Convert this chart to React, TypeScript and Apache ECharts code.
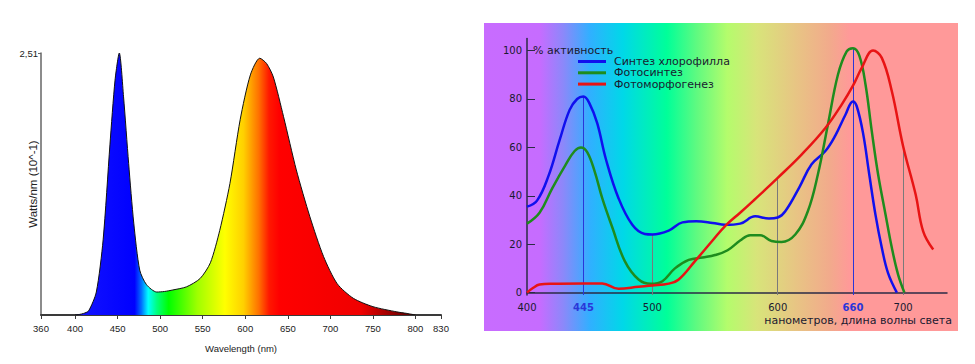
import React, { useEffect, useRef } from "react";
import * as echarts from "echarts";

// ---------- Left chart: LED emission spectrum ----------
const specWl = [400, 405, 410, 416, 425, 433, 441, 447, 452, 457, 463, 469, 476, 484, 496, 505, 515, 531, 547, 559, 570, 582, 594, 606, 617, 625, 633, 645, 660, 676, 692, 708, 727, 750, 778, 790, 800];
const specVal = [0, 0.005, 0.015, 0.04, 0.22, 0.72, 1.63, 2.25, 2.51, 2.09, 1.45, 0.88, 0.43, 0.29, 0.22, 0.225, 0.24, 0.27, 0.35, 0.5, 0.81, 1.26, 1.87, 2.3, 2.46, 2.41, 2.28, 1.9, 1.39, 0.94, 0.56, 0.3, 0.16, 0.08, 0.03, 0.015, 0];
const leftXTicks = [360, 400, 450, 500, 550, 600, 650, 700, 750, 800, 830];
const leftYTicks = [2.51];

// ---------- Right chart: plant activity ----------
const seriesNames = ["Синтез хлорофилла", "Фотосинтез", "Фотоморфогенез"];
const chlWl = [400, 408, 417, 426, 434, 440, 445, 450, 456, 463, 473, 484, 494, 500, 513, 524, 535, 548, 558, 570, 582, 593, 600, 606, 617, 627, 638, 646, 654, 660, 663, 668, 673, 678, 683, 688, 695];
const chlVal = [35.5, 38, 48, 63, 75.5, 80, 81, 78, 70, 55, 39, 28, 24.2, 24, 25.6, 29, 29.5, 28.8, 28, 28.5, 31.5, 30.6, 31, 33.6, 43.3, 53, 58.5, 65, 73.5, 79, 77, 66, 48.8, 32, 18.5, 8, 0];
const photoWl = [400, 410, 420, 431, 438, 443, 448, 454, 460, 468, 478, 489, 499, 508, 518, 529, 540, 550, 560, 570, 578, 586, 595, 603, 614, 624, 632, 640, 648, 655, 660, 665, 670, 675, 680, 686, 691, 696, 701];
const photoVal = [28.5, 33, 43, 53, 58.5, 60, 58, 50, 39, 27, 13, 5.4, 3.6, 4.7, 10, 13.5, 14.5, 15.5, 17.5, 21.5, 23.7, 23.7, 21.3, 20.9, 24, 33.6, 48.8, 69.4, 90, 99.7, 101, 98, 86, 66.7, 49, 32.2, 18.5, 7.4, 0];
const morphWl = [400, 405, 410, 420, 445, 460, 473, 489, 500, 513, 521, 534, 548, 558, 570, 580, 600, 619, 638, 651, 660, 667, 676, 683, 691, 700, 710, 716, 724];
const morphVal = [0, 2, 3.3, 3.7, 3.8, 3.8, 1.6, 2.4, 2.9, 3.7, 5.4, 13, 21.5, 27.5, 33, 37.7, 47.4, 57, 68, 77.7, 85.5, 92.9, 100, 97, 83.2, 60.5, 40.5, 25.3, 17.8];
const rightXTicks = [400, 445, 500, 600, 660, 700];
const highlightTicks = [445, 660];
const rightYTicks = [0, 20, 40, 60, 80, 100];
// drop lines: wavelength and index of the series they reach
const dropWl = [445, 500, 600, 660, 700];
const dropSeries = [0, 0, 2, 1, 2];

const wlSets = [chlWl, photoWl, morphWl];
const valSets = [chlVal, photoVal, morphVal];

function valueAt(wl: number[], val: number[], x: number): number {
  for (let i = 0; i < wl.length - 1; i++) {
    if (x >= wl[i] && x <= wl[i + 1]) {
      const t = (x - wl[i]) / (wl[i + 1] - wl[i]);
      return val[i] + t * (val[i + 1] - val[i]);
    }
  }
  return 0;
}

const pairs = (wl: number[], v: number[]) => wl.map((w, i) => [w, v[i]]);

export default function App() {
  const ref = useRef<HTMLDivElement>(null);
  useEffect(() => {
    if (!ref.current) return;
    const chart = echarts.init(ref.current, undefined, { renderer: "svg" });

    const spectrumGrad = new echarts.graphic.LinearGradient(0, 0, 1, 0, [
      { offset: 0, color: "#1414ff" },
      { offset: 0.175, color: "#0000ff" },
      { offset: 0.195, color: "#0070ff" },
      { offset: 0.215, color: "#00ffff" },
      { offset: 0.24, color: "#00ff80" },
      { offset: 0.275, color: "#00ff00" },
      { offset: 0.36, color: "#a0ff00" },
      { offset: 0.44, color: "#ffff00" },
      { offset: 0.495, color: "#ffd000" },
      { offset: 0.54, color: "#ff7000" },
      { offset: 0.57, color: "#ff1800" },
      { offset: 0.6, color: "#ff0000" },
      { offset: 0.84, color: "#f00000" },
      { offset: 1, color: "#500000" },
    ]);

    const bgGrad = new echarts.graphic.LinearGradient(0, 0, 1, 0, [
      { offset: 0, color: "#c86cff" },
      { offset: 0.118, color: "#c66cff" },
      { offset: 0.167, color: "#8c88fa" },
      { offset: 0.224, color: "#30b0ff" },
      { offset: 0.293, color: "#00d8e8" },
      { offset: 0.386, color: "#00ff99" },
      { offset: 0.449, color: "#60fa80" },
      { offset: 0.513, color: "#b4fc6c" },
      { offset: 0.576, color: "#d8e47a" },
      { offset: 0.66, color: "#e8c484" },
      { offset: 0.73, color: "#f2aa8c" },
      { offset: 0.772, color: "#ff9999" },
      { offset: 1, color: "#ff9999" },
    ]);

    const lineColors = ["#1010ee", "#1e8c1e", "#e81414"];
    const font = '"DejaVu Sans", Verdana, sans-serif';
    const leftFont = '"Liberation Sans", Arial, sans-serif';

    const dropData = dropWl.map((w, i) => {
      const s = dropSeries[i];
      const v = valueAt(wlSets[s], valSets[s], w);
      const hl = highlightTicks.indexOf(w) >= 0;
      return [
        { coord: [w, -1], lineStyle: { color: hl ? "#2a36d8" : "#7a7a7a", width: 1, type: "solid" } },
        { coord: [w, v] },
      ];
    });

    const option: any = {
      animation: false,
      graphic: [
        {
          type: "rect",
          z: -10,
          shape: { x: 484, y: 23, width: 474, height: 308 },
          style: { fill: bgGrad },
        },
        {
          type: "text",
          x: 533,
          y: 50,
          style: { text: "% активность", fontFamily: font, fontSize: 11, fill: "#1a1a30", align: "left", verticalAlign: "middle" },
        },
        {
          type: "text",
          x: 952,
          y: 320,
          style: { text: "нанометров, длина волны света", fontFamily: font, fontSize: 11, fill: "#1a1a30", align: "right", verticalAlign: "middle" },
        },
      ],
      legend: {
        orient: "vertical",
        left: 578,
        top: 56,
        padding: 0,
        icon: "rect",
        itemWidth: 28,
        itemHeight: 3,
        itemGap: 0.3,
        data: seriesNames,
        selectedMode: false,
        textStyle: { fontFamily: font, fontSize: 11, color: "#1a1a30", lineHeight: 10, padding: [0, 0, 0, 3] },
      },
      grid: [
        { left: 41, top: 53, width: 400, height: 262 },
        { left: 527, top: 38.5, width: 420, height: 256.5 },
      ],
      xAxis: [
        {
          gridIndex: 0,
          type: "value",
          min: 360,
          max: 830,
          splitLine: { show: false },
          axisLine: { lineStyle: { color: "#3a3a3a", width: 2 } },
          axisTick: { show: true, customValues: leftXTicks, length: 4, lineStyle: { color: "#3a3a3a" } },
          axisLabel: { customValues: leftXTicks, fontFamily: leftFont, fontSize: 9.5, color: "#222", margin: 8 },
          name: "Wavelength (nm)",
          nameLocation: "middle",
          nameGap: 28,
          nameTextStyle: { fontFamily: leftFont, fontSize: 9.5, color: "#222" },
        },
        {
          gridIndex: 1,
          type: "value",
          min: 400,
          max: 735,
          splitLine: { show: false },
          axisLine: { lineStyle: { color: "#2b2b45", width: 1.5 } },
          axisTick: { show: false },
          axisLabel: {
            customValues: rightXTicks,
            margin: 7,
            fontFamily: font,
            fontSize: 10,
            color: "#1a1a30",
            formatter: (v: number) => (highlightTicks.indexOf(v) >= 0 ? `{hl|${v}}` : `${v}`),
            rich: { hl: { fontFamily: font, fontSize: 10, fontWeight: "bold", color: "#2a36d8" } },
          },
        },
      ],
      yAxis: [
        {
          gridIndex: 0,
          type: "value",
          min: 0,
          max: 2.51,
          splitLine: { show: false },
          axisLine: { show: true, lineStyle: { color: "#666", width: 1.5 } },
          axisTick: { show: true, customValues: leftYTicks, length: 3, lineStyle: { color: "#666" } },
          axisLabel: {
            customValues: leftYTicks,
            fontFamily: leftFont,
            fontSize: 9.5,
            color: "#222",
            margin: 3,
            formatter: (v: number) => String(v).replace(".", ","),
          },
          name: "Watts/nm (10^-1)",
          nameLocation: "middle",
          nameRotate: 90,
          nameGap: 2,
          nameMoveOverlap: false,
          nameTextStyle: { fontFamily: leftFont, fontSize: 11.5, color: "#222" },
        },
        {
          gridIndex: 1,
          type: "value",
          min: -1,
          max: 105,
          splitLine: { show: false },
          axisLine: { show: true, lineStyle: { color: "#2b2b45", width: 1.5 } },
          axisTick: { show: true, inside: true, customValues: rightYTicks, length: 8, lineStyle: { color: "#2b2b45" } },
          axisLabel: { customValues: rightYTicks, fontFamily: font, fontSize: 10, color: "#1a1a30", margin: 5 },
        },
      ],
      series: [
        {
          name: "spectrum",
          type: "line",
          xAxisIndex: 0,
          yAxisIndex: 0,
          data: pairs(specWl, specVal),
          smooth: 0.25,
          symbol: "none",
          lineStyle: { color: "#111", width: 1 },
          areaStyle: { color: spectrumGrad, opacity: 1 },
          silent: true,
        },
        ...seriesNames.map((n, i) => ({
          name: n,
          type: "line",
          xAxisIndex: 1,
          yAxisIndex: 1,
          data: pairs(wlSets[i], valSets[i]),
          smooth: 0.4,
          symbol: "none",
          color: lineColors[i],
          lineStyle: { color: lineColors[i], width: 2.5 },
          silent: true,
          z: 3,
          markLine:
            i === 0
              ? { symbol: ["none", "none"], silent: true, label: { show: false }, z: 1, data: dropData }
              : undefined,
        })),
      ],
    };

    chart.setOption(option);
    return () => chart.dispose();
  }, []);

  return <div ref={ref} style={{ position: "absolute", left: 0, top: 0, width: 975, height: 364, background: "#fff" }} />;
}
